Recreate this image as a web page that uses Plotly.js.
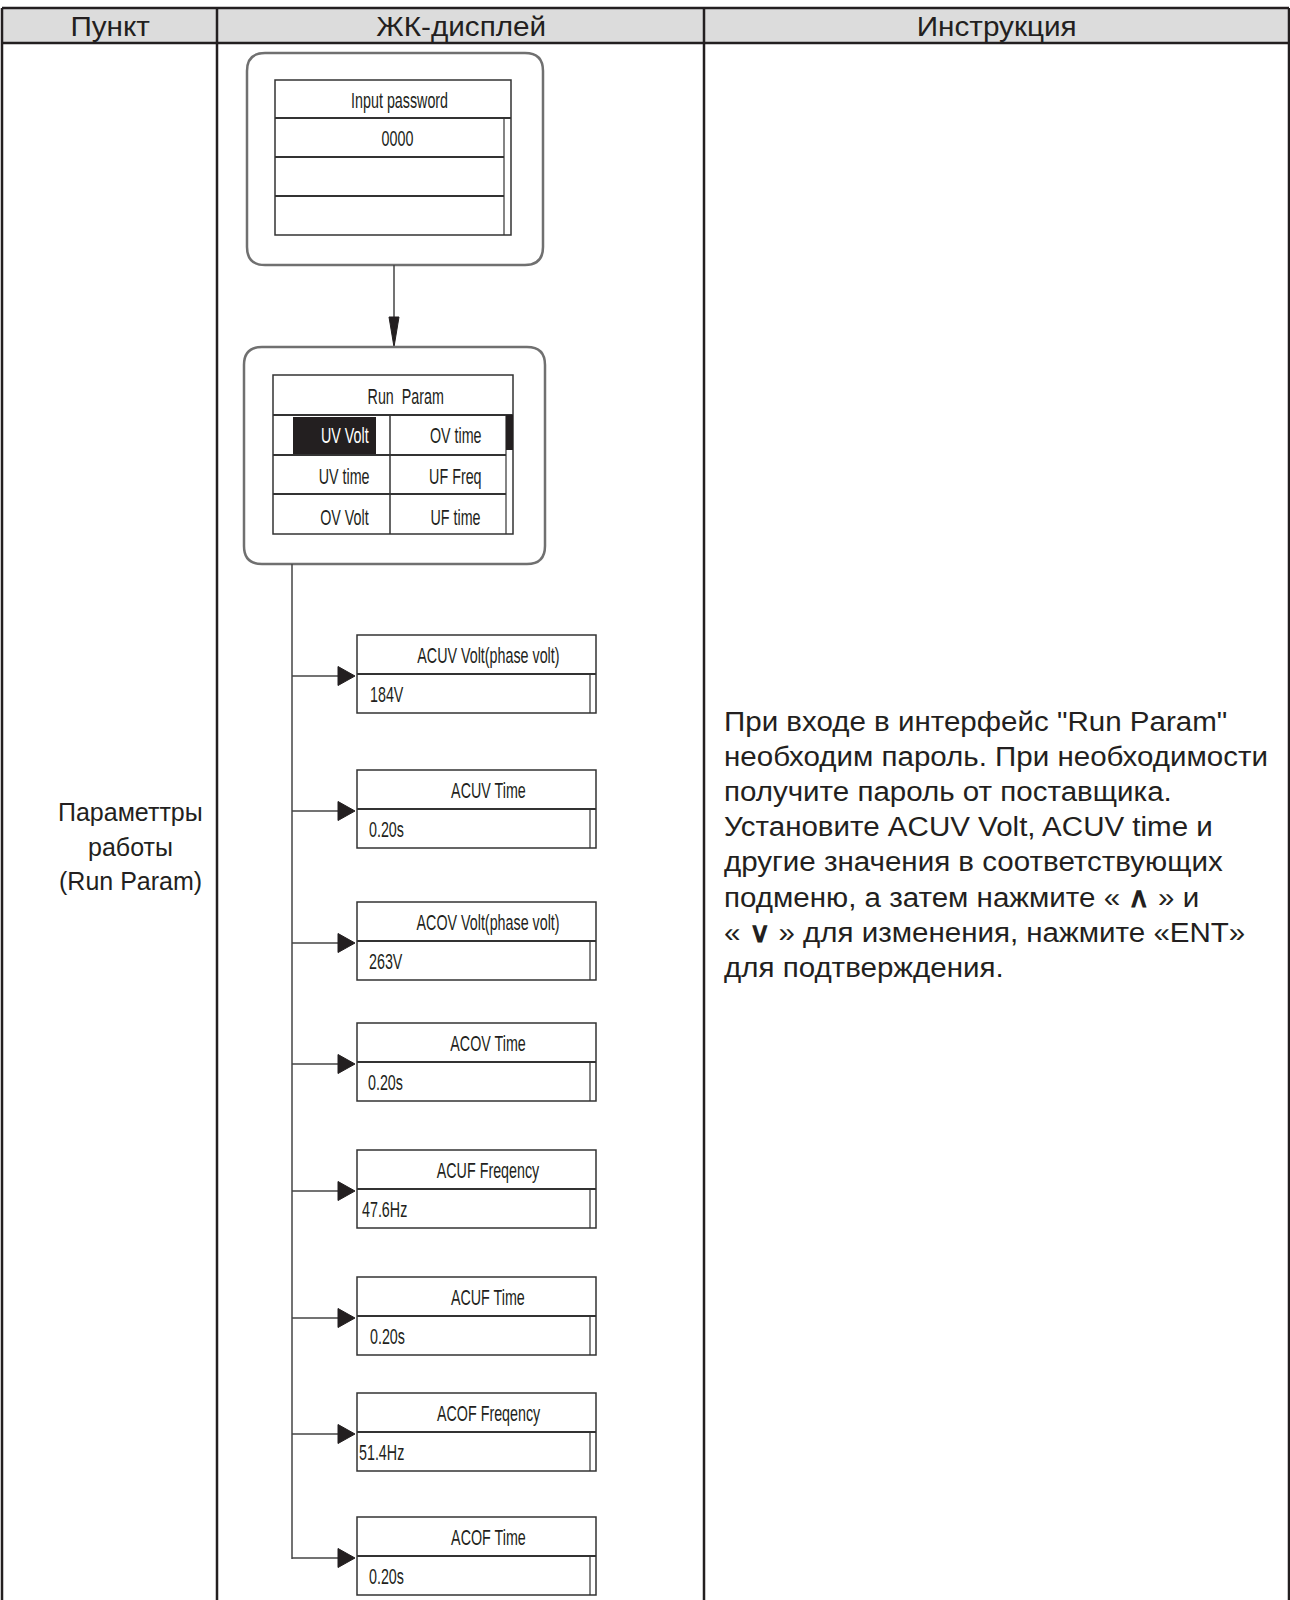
<!DOCTYPE html>
<html>
<head>
<meta charset="utf-8">
<script src="https://cdn.plot.ly/plotly-3.0.1.min.js"></script>
<style>
  html, body { margin: 0; padding: 0; background: #ffffff; }
  #chart { width: 1290px; height: 1600px; }
</style>
</head>
<body>
<div id="chart"></div>
<script>
// ---------- data ----------
const headers = ['Пункт', 'ЖК-дисплей', 'Инструкция'];
const itemLines = ['Параметтры', 'работы', '(Run Param)'];
const instructionLines = [
  'При входе в интерфейс "Run Param"',
  'необходим пароль. При необходимости',
  'получите пароль от поставщика.',
  'Установите ACUV Volt, ACUV time и',
  'другие значения в соответствующих',
  'подменю, а затем нажмите « <b>\u2227</b> » и',
  '« <b>\u2228</b> » для изменения, нажмите «ENT»',
  'для подтверждения.'
];
const passwordScreen = ['Input password', '0000', '', ''];
const runParamTitle = 'Run  Param';
const runParamLeft = ['UV Volt', 'UV time', 'OV Volt'];
const runParamRight = ['OV time', 'UF Freq', 'UF time'];
const subMenuTitles = ['ACUV Volt(phase volt)', 'ACUV Time', 'ACOV Volt(phase volt)', 'ACOV Time',
                       'ACUF Freqency', 'ACUF Time', 'ACOF Freqency', 'ACOF Time'];
const subMenuValues = ['184V', '0.20s', '263V', '0.20s', '47.6Hz', '0.20s', '51.4Hz', '0.20s'];

// ---------- layout geometry ----------
const W = 1290, H = 1600;
const colX = [2, 217, 704, 1289];
const headTop = 8, headBot = 43;
const subTops = [635, 770, 902, 1023, 1150, 1277, 1393, 1517];
const subValX = [368, 367, 367, 366, 360, 368, 357, 367];
const subL = 357, subR = 596, subSB = 590, rowH = 39;
const treeX = 292;

const MAIN_FONT = 'Liberation Sans, Arial, sans-serif';
const LCD_FONT = 'Liberation Sans, Arial, sans-serif';
const LCD_SIZE = 22, LCD_SCALE = 0.65;
const INK = '#231f20';
const BOX = '#333333';

const shapes = [];
const annotations = [];
const annScale = [];   // horizontal squeeze/stretch per annotation (applied after render)

function line(x0, y0, x1, y1, color, width) {
  shapes.push({type: 'line', xref: 'x', yref: 'y', x0, y0, x1, y1,
               line: {color: color || INK, width: width || 2}});
}
function rect(x0, y0, x1, y1, fill, color, width) {
  shapes.push({type: 'rect', xref: 'x', yref: 'y', x0, y0, x1, y1,
               fillcolor: fill || 'rgba(0,0,0,0)',
               line: {color: color || BOX, width: width === undefined ? 1.5 : width}});
}
function path(d, fill, color, width) {
  shapes.push({type: 'path', xref: 'x', yref: 'y', path: d,
               fillcolor: fill || 'rgba(0,0,0,0)',
               line: {color: color || BOX, width: width === undefined ? 1.5 : width}});
}
function rounded(x0, y0, x1, y1, r) {
  return `M${x0 + r},${y0} L${x1 - r},${y0} Q${x1},${y0} ${x1},${y0 + r} L${x1},${y1 - r} ` +
         `Q${x1},${y1} ${x1 - r},${y1} L${x0 + r},${y1} Q${x0},${y1} ${x0},${y1 - r} ` +
         `L${x0},${y0 + r} Q${x0},${y0} ${x0 + r},${y0} Z`;
}
function text(t, x, y, opts) {
  opts = opts || {};
  const xa = opts.xanchor || 'center';
  annotations.push({
    text: t, x, y, xref: 'x', yref: 'y', showarrow: false,
    xanchor: xa, yanchor: 'middle', align: xa,
    font: {family: opts.family || MAIN_FONT, size: opts.size || 27, color: opts.color || INK}
  });
  annScale.push({s: opts.scale || 1, origin: xa === 'left' ? 'left center' : 'center center'});
}
function lcd(t, x, y, opts) {
  opts = opts || {};
  text(t, x, y, Object.assign({family: LCD_FONT, size: LCD_SIZE, scale: LCD_SCALE}, opts));
}

// ---------- table frame ----------
rect(colX[0], headTop, colX[3], headBot, '#dcdcdc', INK, 0);
line(colX[0], headTop, colX[3], headTop, INK, 2.5);
line(colX[0], headBot, colX[3], headBot, INK, 2.5);
colX.forEach(x => line(x, headTop, x, H + 5, INK, 2.5));
headers.forEach((h, i) => text(h, (colX[i] + colX[i + 1]) / 2, 27, {size: 27, scale: 1.1}));

itemLines.forEach((t, i) => text(t, 130, 812 + i * 34.5, {size: 25}));
instructionLines.forEach((t, i) => text(t, 722, 721 + i * 35.2, {size: 28, xanchor: 'left', scale: 1.055}));

// ---------- password screen ----------
path(rounded(247, 53, 543, 265, 18), null, '#707070', 2.5);
{
  const x0 = 275, x1 = 511, sb = 504;
  const rows = [80, 118, 157, 196, 235];
  rect(x0, rows[0], x1, rows[4], null, BOX, 1.5);
  line(x0, rows[1], x1, rows[1], BOX, 2);
  line(x0, rows[2], sb, rows[2], BOX, 2);
  line(x0, rows[3], sb, rows[3], BOX, 2);
  line(sb, rows[1], sb, rows[4], BOX, 1.2);
  passwordScreen.forEach((t, i) => {
    if (t) lcd(t, i === 0 ? 399 : 397, (rows[i] + rows[i + 1]) / 2 + 1);
  });
}

// down arrow
line(394, 265, 394, 320, '#444444', 1.5);
path('M389,317 L399,317 L394,347 Z', INK, INK, 1);

// ---------- Run Param screen ----------
path(rounded(244, 347, 545, 564, 18), null, '#707070', 2.5);
{
  const x0 = 273, x1 = 513, sb = 506, mid = 390;
  const rows = [375, 415, 455, 494, 534];
  rect(x0, rows[0], x1, rows[4], null, BOX, 1.5);
  line(x0, rows[1], x1, rows[1], BOX, 2);
  line(x0, rows[2], sb, rows[2], BOX, 2);
  line(x0, rows[3], sb, rows[3], BOX, 2);
  line(mid, rows[1], mid, rows[4], BOX, 1.5);
  line(sb, rows[1], sb, rows[4], BOX, 1.2);
  rect(sb, rows[1], x1, 450, INK, INK, 0);
  rect(293, 417, 376, 454, INK, INK, 0);
  lcd(runParamTitle, 405, 396);
  const ys = [435, 476, 517];
  runParamLeft.forEach((t, i) => lcd(t, 344, ys[i], {color: i === 0 ? '#ffffff' : INK}));
  runParamRight.forEach((t, i) => lcd(t, 455, ys[i]));
}

// ---------- sub menus ----------
const lastArrowY = subTops[subTops.length - 1] + rowH + 3;
line(treeX, 564, treeX, lastArrowY, '#444444', 1.5);
subTops.forEach((top, i) => {
  const mid = top + rowH, bot = top + 2 * rowH, ay = mid + 2;
  rect(subL, top, subR, bot, null, BOX, 1.5);
  line(subL, mid, subR, mid, BOX, 2);
  line(subSB, mid, subSB, bot, BOX, 1.2);
  line(treeX, ay, 340, ay, '#444444', 1.5);
  path(`M338,${ay - 9.5} L355,${ay} L338,${ay + 9.5} Z`, INK, INK, 1);
  lcd(subMenuTitles[i], 488, top + rowH / 2 + 1);
  lcd(subMenuValues[i], subValX[i], mid + rowH / 2 + 1, {xanchor: 'left'});
});

const layout = {
  width: W, height: H,
  margin: {l: 0, r: 0, t: 0, b: 0},
  paper_bgcolor: '#ffffff', plot_bgcolor: '#ffffff',
  showlegend: false,
  xaxis: {range: [0, W], visible: false, fixedrange: true},
  yaxis: {range: [H, 0], visible: false, fixedrange: true},
  shapes, annotations
};

function applyScales() {
  document.querySelectorAll('#chart g.annotation').forEach(g => {
    const idx = +g.getAttribute('data-index');
    const sc = annScale[idx];
    if (!sc || sc.s === 1) return;
    const t = g.querySelector('text.annotation-text');
    if (!t) return;
    t.style.transformBox = 'fill-box';
    t.style.transformOrigin = sc.origin;
    t.style.transform = 'scaleX(' + sc.s + ')';
  });
}

Plotly.newPlot('chart', [{x: [], y: [], type: 'scatter', mode: 'markers', hoverinfo: 'skip'}], layout,
               {staticPlot: true, displayModeBar: false}).then(applyScales);
</script>
</body>
</html>
